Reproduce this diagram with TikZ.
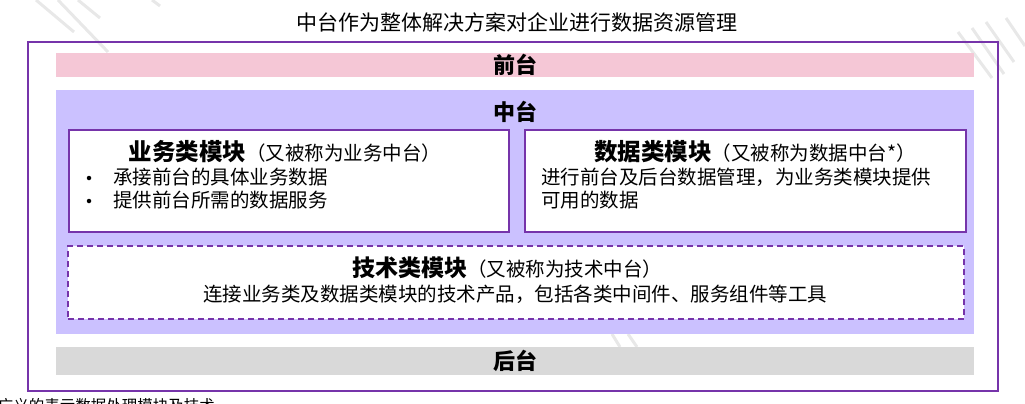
\documentclass[tikz,border=0pt]{standalone}
\usepackage{fontspec}
\setmainfont{Noto Sans CJK SC}
\definecolor{pur}{RGB}{118,52,170}
\definecolor{lav}{RGB}{203,193,255}
\definecolor{pinkbar}{RGB}{245,199,214}
\definecolor{greybar}{RGB}{217,217,217}
\definecolor{wmark}{RGB}{232,232,232}
\begin{document}
\begin{tikzpicture}[x=1pt,y=-1pt,
  bar/.style={anchor=north west, inner sep=0pt, draw=none},
  modbox/.style={anchor=north west, inner sep=0pt, draw=pur, line width=2pt, fill=white},
  techbox/.style={anchor=north west, inner sep=0pt, draw=pur, line width=2pt, fill=white, dash pattern=on 6pt off 4pt},
  barlabel/.style={font=\bfseries\fontsize{22}{25}\selectfont, inner sep=0pt},
  body/.style={font=\fontsize{19.5}{23}\selectfont, inner sep=0pt, anchor=west},
  bul/.style={circle, fill=black, inner sep=0pt, minimum size=4.5pt},
  wm/.style={draw=wmark, line width=3pt}]
\useasboundingbox (0,0) rectangle (1025,404);
% faint watermark strokes
\draw[wm] (36,0) -- (74,32);
\draw[wm] (58,0) -- (108,52);
\draw[wm] (78,0) -- (100,18);
\draw[wm] (152,0) -- (160,6);
\draw[wm] (958,32) -- (992,78);
\draw[wm] (972,28) -- (1004,74);
\draw[wm] (986,22) -- (1014,62);
\draw[wm] (1006,18) -- (1025,46);
\draw[wm] (612,334) -- (620,347);
\draw[wm] (628,334) -- (637,347);
% title
\node[font=\fontsize{21}{24}\selectfont, inner sep=0pt] (title) at (517,22) {中台作为整体解决方案对企业进行数据资源管理};
% outer frame
\node[anchor=north west, inner sep=0pt, draw=pur, line width=2.4pt, minimum width=970, minimum height=349] (outer) at (27,41) {};
% front bar
\node[bar, fill=pinkbar, minimum width=918, minimum height=24] (front) at (56,53) {};
\node[barlabel] (frontlbl) at (front.center) {前台};
% middle region
\node[bar, fill=lav, minimum width=918, minimum height=244] (mid) at (56,90) {};
\node[barlabel] (midlbl) at (515,112) {中台};
% back bar
\node[bar, fill=greybar, minimum width=918, minimum height=28] (back) at (56,347) {};
\node[barlabel] (backlbl) at (back.center) {后台};
% business module
\node[modbox, minimum width=440, minimum height=102] (biz) at (68,129) {};
\node[inner sep=0pt] (biztitle) at (285,152) {{\bfseries\fontsize{23.5}{26}\selectfont 业务类模块}{\fontsize{19.5}{23}\selectfont （又被称为业务中台）}};
\node[bul] (bb1) at (89,178) {};
\node[body] (b1) at (113,177) {承接前台的具体业务数据};
\node[bul] (bb2) at (89,201) {};
\node[body] (b2) at (113,200) {提供前台所需的数据服务};
% data module
\node[modbox, minimum width=441, minimum height=102] (data) at (524,129) {};
\node[inner sep=0pt] (datatitle) at (755,152) {{\bfseries\fontsize{23.5}{26}\selectfont 数据类模块}{\fontsize{19.5}{23}\selectfont （又被称为数据中台*）}};
\node[body] (d1) at (541,177) {进行前台及后台数据管理，为业务类模块提供};
\node[body] (d2) at (541,200) {可用的数据};
% tech module
\node[techbox, minimum width=896, minimum height=73] (tech) at (67,245) {};
\node[inner sep=0pt] (techtitle) at (507,268) {{\bfseries\fontsize{23}{26}\selectfont 技术类模块}{\fontsize{19.5}{23}\selectfont （又被称为技术中台）}};
\node[inner sep=0pt, font=\fontsize{19.5}{23}\selectfont] (t1) at (515,294) {连接业务类及数据类模块的技术产品，包括各类中间件、服务组件等工具};
% footnote (cut by the page edge, as in the reference)
\node[anchor=base west, inner sep=0pt, font=\fontsize{15.5}{18}\selectfont] (foot) at (-9.5,411) {*广义的表示数据处理模块及技术};
\end{tikzpicture}
\end{document}
